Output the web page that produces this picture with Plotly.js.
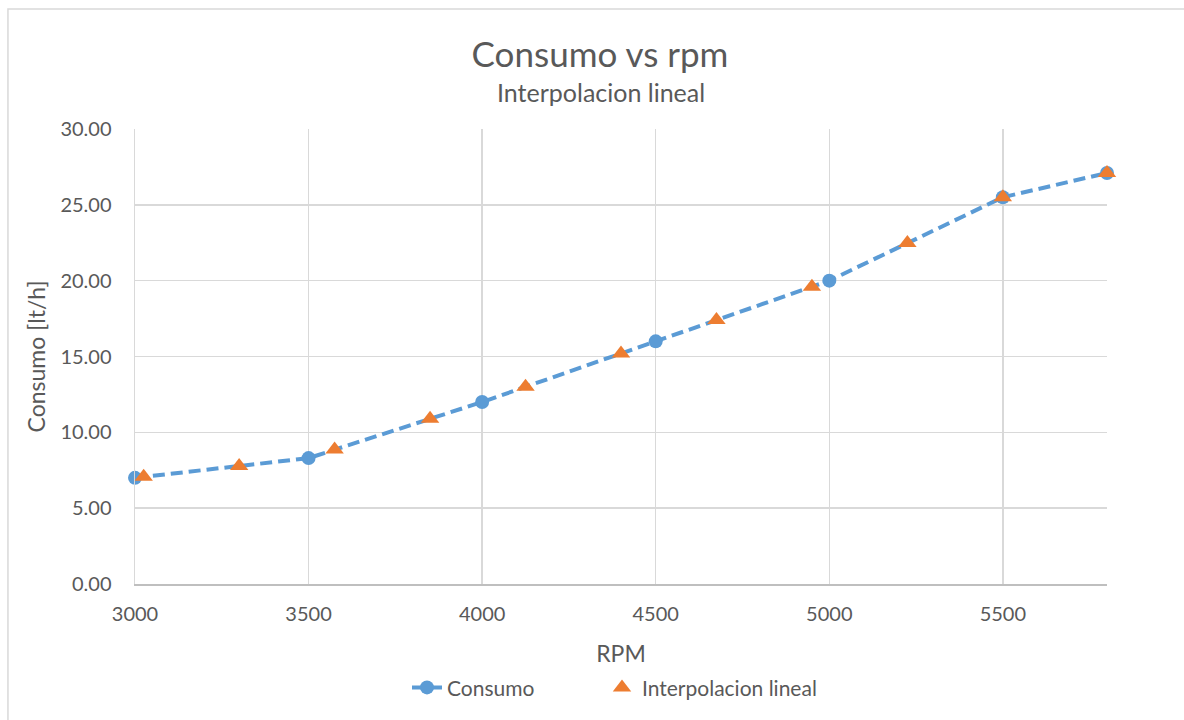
<!DOCTYPE html>
<html>
<head>
<meta charset="utf-8">
<script src="https://cdn.plot.ly/plotly-3.0.1.min.js"></script>
<style>
  html, body { margin: 0; padding: 0; background: #ffffff; }
  #chart { width: 1184px; height: 720px; }
</style>
</head>
<body>
<div id="chart"></div>
<script>
// Measured fuel consumption against engine speed
const rpmMedido = [3000, 3500, 4000, 4500, 5000, 5500, 5800];
const consumoMedido = [7.0, 8.3, 12.0, 16.0, 20.0, 25.5, 27.1];

// Linearly interpolated points between the measurements
const rpmInterp = [3025, 3300, 3575, 3850, 4125, 4400, 4675, 4950, 5225, 5500, 5800];
const consumoInterp = [7.07, 7.78, 8.86, 10.89, 13.0, 15.2, 17.4, 19.6, 22.48, 25.5, 27.1];

const xTicks = [3000, 3500, 4000, 4500, 5000, 5500];
const yTicks = [0, 5, 10, 15, 20, 25, 30];

const textGray = '#595959';
const gridGray = '#D9D9D9';
const fontFam = 'Lato, "Open Sans", sans-serif';

const traces = [
  {
    x: rpmMedido,
    y: consumoMedido,
    name: 'Consumo',
    type: 'scatter',
    mode: 'lines+markers',
    line: { color: '#5B9BD5', width: 4, dash: '12px,6px' },
    marker: { color: '#5B9BD5', size: 14, symbol: 'circle' },
    cliponaxis: false,
    legend: 'legend'
  },
  {
    x: rpmInterp,
    y: consumoInterp,
    name: 'Interpolacion lineal',
    type: 'scatter',
    mode: 'markers',
    marker: { color: '#ED7D31', size: 16, symbol: 'triangle-up' },
    cliponaxis: false,
    legend: 'legend2'
  }
];

const legendBase = {
  orientation: 'h',
  xanchor: 'left',
  y: -0.228,
  yanchor: 'middle',
  font: { size: 21, color: textGray },
  bgcolor: 'rgba(0,0,0,0)'
};

const layout = {
  width: 1184,
  height: 720,
  paper_bgcolor: '#ffffff',
  plot_bgcolor: '#ffffff',
  margin: { l: 135, r: 77, t: 129, b: 136 },
  font: { family: fontFam, color: textGray, size: 20 },
  title: {
    text: 'Consumo vs rpm',
    font: { family: fontFam, size: 35, color: textGray },
    x: 600 / 1184,
    xanchor: 'center',
    xref: 'container',
    y: 1 - 55 / 720,
    yref: 'container',
    yanchor: 'middle'
  },
  annotations: [
    {
      text: 'Interpolacion lineal',
      xref: 'paper', yref: 'paper',
      x: (601 - 135) / 972, xanchor: 'center',
      y: (584 - 92) / 455, yanchor: 'middle',
      showarrow: false,
      font: { family: fontFam, size: 25, color: textGray }
    }
  ],
  xaxis: {
    range: [3000, 5800],
    tickvals: xTicks,
    ticktext: xTicks.map(String),
    showgrid: true,
    gridcolor: gridGray,
    gridwidth: 1.5,
    zeroline: false,
    showline: true,
    linecolor: '#BFBFBF',
    linewidth: 1.5,
    ticks: '',
    ticklabelstandoff: 11,
    tickfont: { size: 20, color: textGray },
    title: { text: 'RPM', font: { size: 23, color: textGray }, standoff: 22 }
  },
  yaxis: {
    range: [0, 30],
    tickvals: yTicks,
    tickformat: '.2f',
    showgrid: true,
    gridcolor: gridGray,
    gridwidth: 1.5,
    zeroline: false,
    showline: true,
    linecolor: gridGray,
    linewidth: 1.5,
    ticks: '',
    ticklabelstandoff: 18,
    tickfont: { size: 20, color: textGray },
    title: { text: 'Consumo [lt/h]', font: { size: 23, color: textGray }, standoff: 8 }
  },
  legend: Object.assign({}, legendBase, { x: (407 - 135) / 972 }),
  legend2: Object.assign({}, legendBase, { x: (602 - 135) / 972 }),
  showlegend: true,
  shapes: [
    {
      type: 'rect',
      xref: 'paper', yref: 'paper',
      x0: -0.1307, x1: 1.2,
      y0: -0.5, y1: 1.2637,
      line: { color: '#D9D9D9', width: 1.5 },
      fillcolor: 'rgba(0,0,0,0)',
      layer: 'below'
    }
  ]
};

Plotly.newPlot('chart', traces, layout, { displayModeBar: false, staticPlot: true });
</script>
</body>
</html>
